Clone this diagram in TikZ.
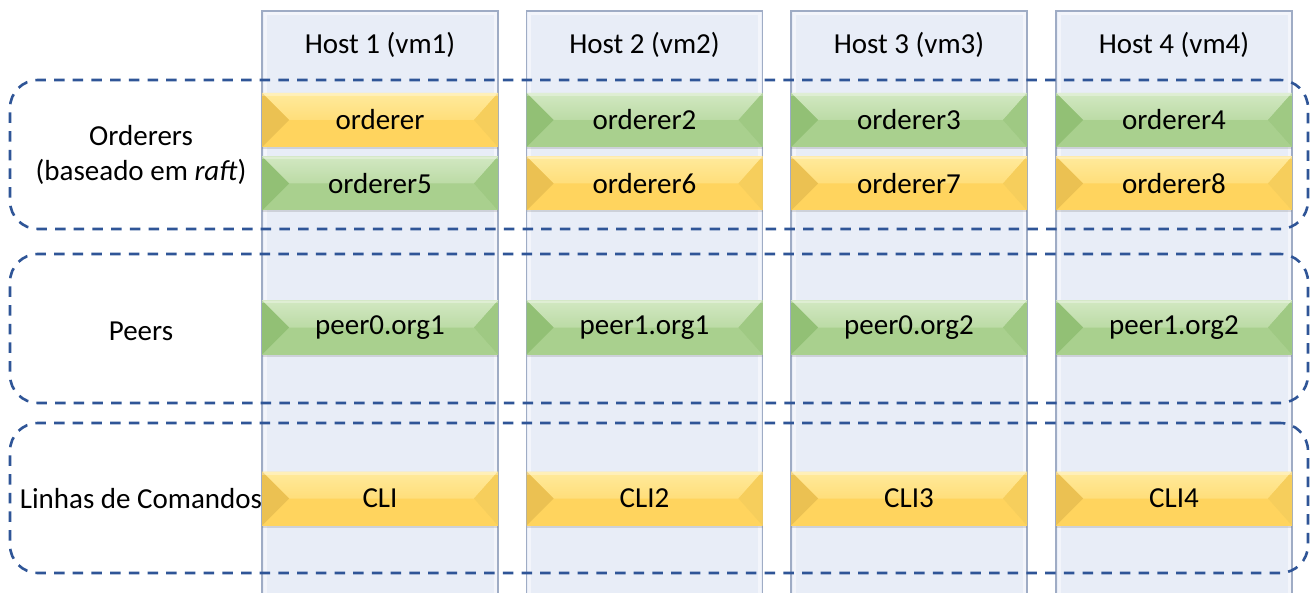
\documentclass[tikz,border=0pt]{standalone}
\usepackage{fontspec}
\setmainfont{Carlito}
\usetikzlibrary{shadows}

\definecolor{colFill}{HTML}{E8EDF7}
\definecolor{colEdge}{HTML}{9FACC5}
\definecolor{colInner}{HTML}{F3F5FB}
\definecolor{grpBlue}{HTML}{2F5597}
\definecolor{ylwTop}{HTML}{FFEA9C}
\definecolor{ylwBot}{HTML}{FFD45E}
\definecolor{ylwL}{HTML}{EBC152}
\definecolor{ylwR}{HTML}{F6CE5C}
\definecolor{grnTop}{HTML}{D2E8C2}
\definecolor{grnBot}{HTML}{A9D08E}
\definecolor{grnL}{HTML}{92C075}
\definecolor{grnR}{HTML}{9FC983}

\newcommand\bigfont{\fontsize{29}{35}\selectfont}

\tikzset{
  host/.style={draw=colEdge, line width=1.6pt, fill=colFill,
    minimum width=236pt, minimum height=600pt, anchor=north, inner sep=0pt,
    path picture={
      \draw[colInner, line width=3pt]
        ([shift={(3pt,-3pt)}]path picture bounding box.north west) rectangle
        ([shift={(-3pt,3pt)}]path picture bounding box.south east);
    }},
  hostlabel/.style={font=\bigfont, inner sep=0pt},
  grouplabel/.style={font=\bigfont, align=center, inner sep=0pt},
  group/.style={draw=grpBlue, line width=2.6pt, dash pattern=on 10.5pt off 8.2pt,
    rounded corners=28pt, minimum width=1298pt, inner sep=0pt},
  bevel/.style n args={4}{path picture={
    \fill[#2] (path picture bounding box.south west) rectangle (path picture bounding box.north east);
    \shade[top color=#1, bottom color=#1!45!#2] (path picture bounding box.north west) -- (path picture bounding box.north east)
      -- ([xshift=-24pt]path picture bounding box.east) -- ([xshift=27pt]path picture bounding box.west) -- cycle;
    \fill[#3] (path picture bounding box.north west) -- ([xshift=27pt]path picture bounding box.west)
      -- (path picture bounding box.south west) -- cycle;
    \fill[#4] (path picture bounding box.north east) -- ([xshift=-24pt]path picture bounding box.east)
      -- (path picture bounding box.south east) -- cycle;
    \fill[white, opacity=0.3] (path picture bounding box.north west) rectangle ([yshift=-3pt]path picture bounding box.north east);
  }},
  barbase/.style={minimum width=236pt, minimum height=54pt, inner sep=0pt, font=\bigfont,
    drop shadow={shadow xshift=0pt, shadow yshift=-2pt, opacity=0.25}},
  ybar/.style={barbase, bevel={ylwTop}{ylwBot}{ylwL}{ylwR}},
  gbar/.style={barbase, bevel={grnTop}{grnBot}{grnL}{grnR}},
}

\begin{document}
\begin{tikzpicture}[x=1pt, y=-1pt]
  \clip (0,0) rectangle (1316,593);
  \fill[white] (0,0) rectangle (1316,593);

  % host columns
  \node[host] (host1) at (380,10) {};
  \node[host] (host2) at (644.5,10) {};
  \node[host] (host3) at (909,10) {};
  \node[host] (host4) at (1174,10) {};

  \node[hostlabel] (h1) at (380,45) {Host 1 (vm1)};
  \node[hostlabel] (h2) at (644.5,45) {Host 2 (vm2)};
  \node[hostlabel] (h3) at (909,45) {Host 3 (vm3)};
  \node[hostlabel] (h4) at (1174,45) {Host 4 (vm4)};

  % dashed groups
  \node[group, minimum height=149pt] (grpOrd) at (659,154.5) {};
  \node[group, minimum height=149pt] (grpPeer) at (659,328.5) {};
  \node[group, minimum height=150pt] (grpCli) at (659,498) {};

  % group labels
  \node[grouplabel] (lOrd) at (141,155) {Orderers\\(baseado em \textit{raft})};
  \node[grouplabel] (lPeer) at (141,331) {Peers};
  \node[grouplabel] (lCli) at (141,499) {Linhas de Comandos};

  % orderers
  \node[ybar] (o1) at (380,120) {orderer};
  \node[gbar] (o2) at (644.5,120) {orderer2};
  \node[gbar] (o3) at (909,120) {orderer3};
  \node[gbar] (o4) at (1174,120) {orderer4};
  \node[gbar] (o5) at (380,183.5) {orderer5};
  \node[ybar] (o6) at (644.5,183.5) {orderer6};
  \node[ybar] (o7) at (909,183.5) {orderer7};
  \node[ybar] (o8) at (1174,183.5) {orderer8};

  % peers
  \node[gbar] (p1) at (380,327.5) {peer0.org1};
  \node[gbar] (p2) at (644.5,327.5) {peer1.org1};
  \node[gbar] (p3) at (909,327.5) {peer0.org2};
  \node[gbar] (p4) at (1174,327.5) {peer1.org2};

  % command line clients
  \node[ybar] (c1) at (380,498.5) {CLI};
  \node[ybar] (c2) at (644.5,498.5) {CLI2};
  \node[ybar] (c3) at (909,498.5) {CLI3};
  \node[ybar] (c4) at (1174,498.5) {CLI4};
\end{tikzpicture}
\end{document}
